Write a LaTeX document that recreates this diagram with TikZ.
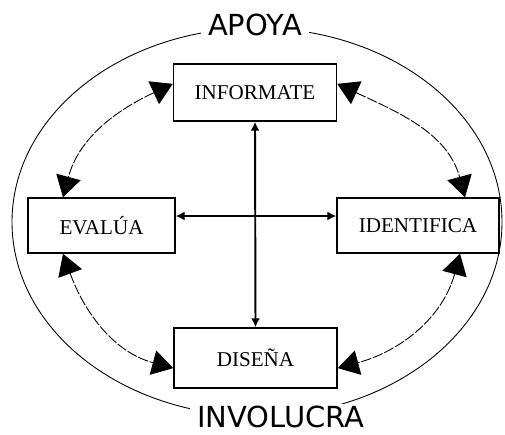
\documentclass[tikz,border=0pt]{standalone}
\usepackage{fontspec}
\setmainfont{Liberation Serif}
\newfontfamily\handfont{DejaVu Sans}
\usetikzlibrary{arrows.meta}
\begin{document}
\begin{tikzpicture}[line width=0.8pt]
    \tikzstyle{etapa}=[rectangle,draw,line width=0.85pt,inner sep=0pt,font=\fontsize{12}{14}\selectfont]
    \tikzstyle{ciclo}=[line width=0.5pt,dash pattern=on 6pt off 1pt,{Triangle[length=0.42cm,width=0.5cm]}-{Triangle[length=0.42cm,width=0.5cm]}]
    \tikzstyle{eje}=[{Latex[length=5pt,width=5pt]}-{Latex[length=5pt,width=5pt]}]
    \tikzstyle{lema}=[fill=white,inner xsep=4pt,inner ysep=1pt,font=\handfont\fontsize{16.5}{19}\selectfont]

    \useasboundingbox (0,0) rectangle (10.1,-8.68);

    % outer cycle
    \draw[line width=0.5pt] (5.14,-4.44) ellipse (4.9cm and 3.88cm);
    \node[lema] (apoya) at (5.10,-0.50) {APOYA};
    \node[lema] (involucra) at (5.62,-8.33) {INVOLUCRA};

    \node[etapa, minimum width=3.26cm, minimum height=1.14cm] (inf) at (5.10,-1.85) {INFORMATE};
    \node[etapa, minimum width=2.94cm, minimum height=1.10cm] (eva) at (2.03,-4.51) {EVALÚA};
    \node[etapa, minimum width=3.24cm, minimum height=1.10cm] (ide) at (8.36,-4.51) {IDENTIFICA};
    \node[etapa, minimum width=3.26cm, minimum height=1.20cm] (dis) at (5.11,-7.16) {DISEÑA};

    % cross
    \draw[eje, line width=1.1pt] (inf.south) -- (dis.north);
    \draw[eje] ([yshift=0.19cm]eva.east) -- ([yshift=0.19cm]ide.west);

    % inner arcs
    \draw[ciclo] (inf.174) to[out=205,in=75] ([xshift=-0.77cm]eva.north);
    \draw[ciclo] (inf.6) to[out=-25,in=105] ([xshift=0.94cm]ide.north);
    \draw[ciclo] ([xshift=-0.77cm]eva.south) to[out=-70,in=165] (dis.187);
    \draw[ciclo] ([xshift=0.84cm]ide.south) to[out=-105,in=15] (dis.353);
\end{tikzpicture}
\end{document}
